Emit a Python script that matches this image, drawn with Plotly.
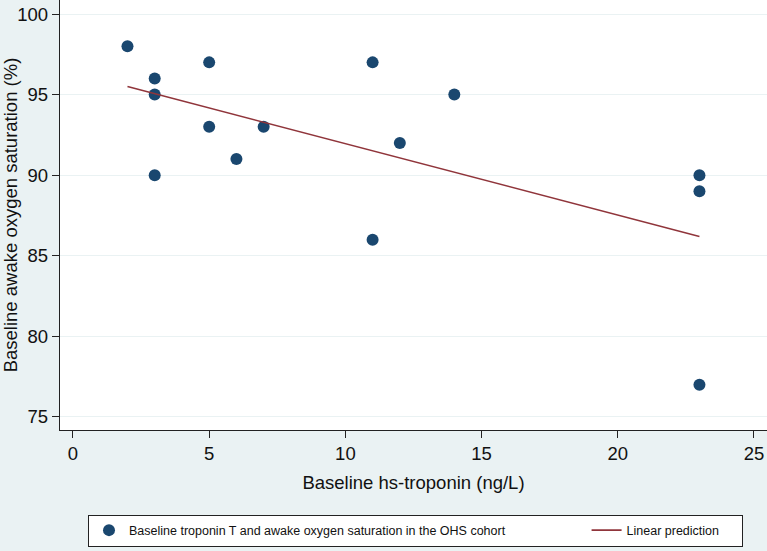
import plotly.graph_objects as go

# baseline hs-troponin (ng/L) vs awake oxygen saturation (%)
troponin = [2, 3, 3, 3, 5, 5, 6, 7, 11, 11, 12, 14, 23, 23, 23]
saturation = [98, 96, 95, 90, 97, 93, 91, 93, 97, 86, 92, 95, 90, 89, 77]

# linear prediction, end points
fit_x = [2, 23]
fit_y = [95.5, 86.2]

BG = "#eaf2f3"
FONT = "Arial, 'Liberation Sans', sans-serif"
NB = "\u00a0"

fig = go.Figure()
fig.add_trace(go.Scatter(
    x=troponin,
    y=saturation,
    mode="markers",
    marker=dict(color="#1a476f", size=12),
    # trailing nbsp only spaces the legend entries apart
    name="Baseline troponin T and awake oxygen saturation in the OHS cohort" + NB * 22,
))
fig.add_trace(go.Scatter(
    x=fit_x,
    y=fit_y,
    mode="lines",
    line=dict(color="#90353b", width=1.6),
    name="Linear prediction" + NB * 5,
))

fig.update_layout(
    width=767,
    height=551,
    paper_bgcolor=BG,
    plot_bgcolor="white",
    margin=dict(l=60, r=0, t=0, b=121),
    font=dict(family=FONT, size=18.5, color="#111"),
    legend=dict(
        orientation="h",
        xref="container",
        yref="container",
        x=88 / 767,
        xanchor="left",
        y=0.0372,
        yanchor="middle",
        bgcolor="white",
        bordercolor="#222",
        borderwidth=1,
        font=dict(size=12.5),
    ),
)

axis_style = dict(
    zeroline=False,
    showline=True,
    linecolor="#222",
    linewidth=1.3,
    ticks="outside",
    ticklen=7,
    tickwidth=1.3,
    tickcolor="#222",
    automargin=False,
    tickfont=dict(size=18.5),
)

fig.update_xaxes(
    range=[-0.477, 25.48],
    tickvals=[0, 5, 10, 15, 20, 25],
    showgrid=False,
    title=dict(text="Baseline hs-troponin (ng/L)", standoff=12, font=dict(size=18.5)),
    **axis_style,
)
fig.update_yaxes(
    range=[74.19, 100.87],
    tickvals=[75, 80, 85, 90, 95, 100],
    showgrid=True,
    gridcolor=BG,
    gridwidth=1.3,
    title=dict(text="Baseline awake oxygen saturation (%)", standoff=6, font=dict(size=18.5)),
    **axis_style,
)

# drop the default 8px body margin so the figure fills the window
fig.write_html(
    "out.html",
    config=dict(displayModeBar=False),
    post_script="document.body.style.margin='0';",
)
